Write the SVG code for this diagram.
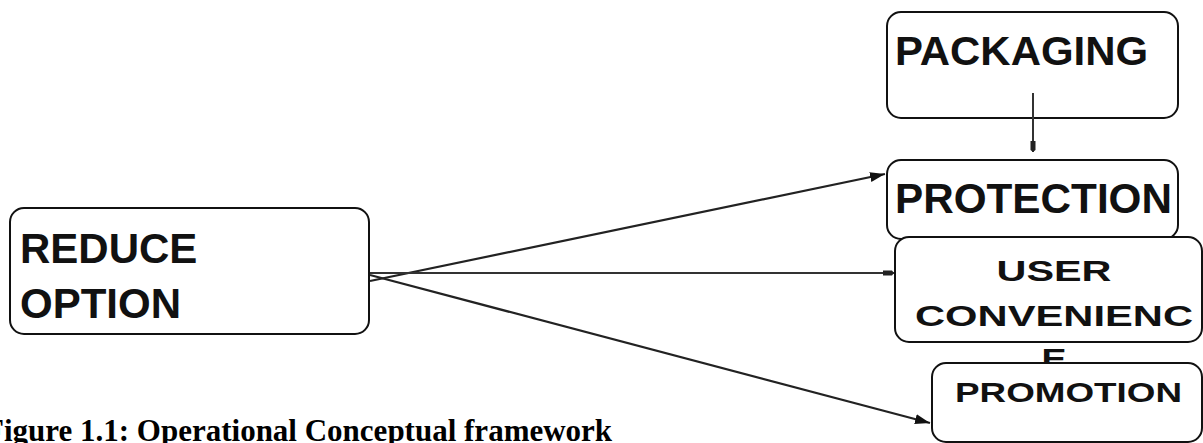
<svg xmlns="http://www.w3.org/2000/svg" width="1203" height="443" viewBox="0 0 1203 443">
  <style>
    .box { fill: #ffffff; stroke: #111111; stroke-width: 2; }
    .lbl { font-family: "Liberation Sans", Arial, sans-serif; font-weight: bold; fill: #111111; }
    .edge { stroke: #222222; stroke-width: 2.2; fill: none; }
    .thin { stroke: #333333; stroke-width: 2; fill: none; }
    .cap { font-family: "Liberation Serif", "Times New Roman", serif; font-weight: bold; fill: #000000; font-size: 31px; }
  </style>
  <defs>
    <marker id="arrow" markerUnits="userSpaceOnUse" markerWidth="16" markerHeight="12" refX="15" refY="6" orient="auto">
      <path d="M0,1 L15,6 L0,11 Z" fill="#111111"/>
    </marker>
    <marker id="block" markerUnits="userSpaceOnUse" markerWidth="12" markerHeight="8" refX="11" refY="4" orient="auto">
      <path d="M0,1.5 L9,1.5 L11,4 L9,6.5 L0,6.5 Z" fill="#222222"/>
    </marker>
  </defs>

  <g id="connectors">
    <line class="edge" x1="370" y1="281" x2="885" y2="174" marker-end="url(#arrow)"/>
    <line class="thin" x1="370" y1="273" x2="894" y2="273" marker-end="url(#block)"/>
    <line class="edge" x1="370" y1="275" x2="930" y2="423" marker-end="url(#arrow)"/>
  </g>

  <g id="node-reduce-option">
    <rect class="box" x="10" y="208" width="359" height="126" rx="14"/>
    <text class="lbl" x="20" y="263" font-size="42">REDUCE</text>
    <text class="lbl" x="20" y="318" font-size="42">OPTION</text>
  </g>

  <g id="node-packaging">
    <rect class="box" x="887" y="12" width="291" height="106" rx="14"/>
    <text class="lbl" x="895" y="65" font-size="41" textLength="253" lengthAdjust="spacingAndGlyphs">PACKAGING</text>
  </g>

  <g id="connector-packaging-protection">
    <line class="thin" x1="1033" y1="93" x2="1033" y2="152" marker-end="url(#block)"/>
  </g>

  <g id="node-protection">
    <rect class="box" x="887" y="160" width="291" height="79" rx="14"/>
    <text class="lbl" x="895" y="213" font-size="42" textLength="277" lengthAdjust="spacingAndGlyphs">PROTECTION</text>
  </g>

  <g id="node-user-convenience">
    <rect class="box" x="895" y="237" width="307" height="105" rx="14"/>
    <text class="lbl" x="1054" y="281" font-size="29" text-anchor="middle" textLength="115" lengthAdjust="spacingAndGlyphs">USER</text>
    <text class="lbl" x="1054" y="326" font-size="29" text-anchor="middle" textLength="278" lengthAdjust="spacingAndGlyphs">CONVENIENC</text>
    <text class="lbl" x="1054" y="369" font-size="29" text-anchor="middle" textLength="25" lengthAdjust="spacingAndGlyphs">E</text>
  </g>

  <g id="node-promotion">
    <rect class="box" x="932" y="363" width="270" height="79" rx="14"/>
    <text class="lbl" x="955" y="402" font-size="28" textLength="227" lengthAdjust="spacingAndGlyphs">PROMOTION</text>
  </g>

  <text class="cap" x="-15" y="441">Figure 1.1: Operational Conceptual framework</text>
</svg>
